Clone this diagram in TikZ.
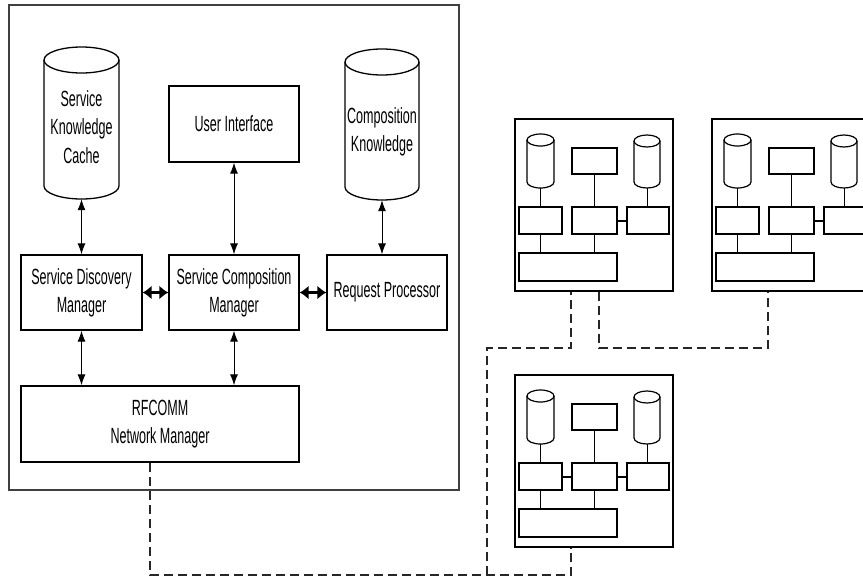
\documentclass[tikz,border=0pt]{standalone}
\usepackage{fontspec}
\setmainfont{Liberation Sans}[FakeStretch=0.57]
\usepackage{tikz}
\usetikzlibrary{arrows.meta,positioning}
\tikzset{
comp/.style = {draw=black, line width=1.3pt, rectangle, align=center, inner sep=0pt,
font=\fontsize{22}{28}\selectfont},% composant de l'hote
storetext/.style = {align=center, inner sep=0pt, font=\fontsize{22}{28.5}\selectfont},% texte d'une base
mini/.style = {draw=black, line width=1.2pt, rectangle, inner sep=0pt},% composant d'un pair
twoway/.style = {{Latex[length=11pt,width=8pt]}-{Latex[length=11pt,width=8pt]}, line width=0.9pt},
sideway/.style = {{Latex[length=9pt,width=14pt]}-{Latex[length=9pt,width=14pt]}, line width=2.2pt},
link/.style = {dash pattern=on 9pt off 5pt, line width=1.4pt, black!85}
}
% une base: #1 nom, (#2,#3) centre, #4 largeur, #5 hauteur, #6 rayon du couvercle, #7 trait
\newcommand{\drum}[7]{%
  \node[inner sep=0pt, minimum width=#4pt, minimum height=#5pt] (#1) at (#2,#3) {};
  \begin{scope}[shift={(#2,#3)}, line width=#7]
    \draw (0,{-#5/2+#6}) ellipse[x radius={#4/2}, y radius=#6];
    \draw ({-#4/2},{-#5/2+#6}) -- ({-#4/2},{#5/2-#6})
      arc[start angle=180, end angle=0, x radius={#4/2}, y radius=#6] -- ({#4/2},{-#5/2+#6});
  \end{scope}}
% un pair du reseau, #1 nom, (#2,#3) coin haut gauche, #4 lien gauche
\newcommand{\peer}[4]{%
\begin{scope}[shift={(#2,#3)}]
  \node[mini, minimum width=158pt, minimum height=172pt] (#1) at (79,86) {};
  \drum{#1l}{25.5}{42}{27}{54}{6}{1.2pt}
  \node[mini, minimum width=45pt, minimum height=26pt] (#1t) at (79.5,42) {};
  \drum{#1r}{132}{42.5}{26}{53}{6}{1.2pt}
  \node[mini, minimum width=43pt, minimum height=27pt] (#1sl) at (25.5,101.5) {};
  \node[mini, minimum width=45pt, minimum height=27pt] (#1sm) at (79.5,101.5) {};
  \node[mini, minimum width=42pt, minimum height=27pt] (#1sr) at (133,101.5) {};
  \node[mini, minimum width=98pt, minimum height=28pt] (#1n) at (53,148) {};
  \draw[line width=1pt] (#1l.south) -- (#1sl.north);
  \draw[line width=1pt] (#1t.south) -- (#1sm.north);
  \draw[line width=1pt] (#1r.south) -- (#1r.south |- #1sr.north);
  \draw[line width=1pt] (#1sl.south) -- (#1sl.south |- #1n.north);
  \draw[line width=1pt] (#1sm.south) -- (#1sm.south |- #1n.north);
  \draw[line width=2pt] (#1sm.east) -- (#1sr.west);
  #4
  \coordinate (#1a) at ([xshift=-23pt]#1.south);
  \coordinate (#1b) at ([xshift=5pt]#1.south);
\end{scope}}

\begin{document}
\begin{tikzpicture}[x=1pt, y=-1pt]
  \clip (0,0) rectangle (863,579);
  % l'hote
  \node[draw=black!75, line width=1.5pt, minimum width=450pt, minimum height=485pt] (host) at (234,247.5) {};
  \drum{cache}{81.5}{123}{75}{152}{13}{1.3pt}
  \node[storetext] (cachetext) at (81.5,127) {Service\\Knowledge\\Cache};
  \node[comp, minimum width=130pt, minimum height=76pt] (ui) at (234,124) {User Interface};
  \drum{compk}{382}{124.5}{74}{151}{13}{1.3pt}
  \node[storetext] (compktext) at (382,132) {Composition\\Knowledge};
  \node[comp, minimum width=121pt, minimum height=75pt] (sdm) at (81.5,292.5) {Service Discovery\\Manager};
  \node[comp, minimum width=130pt, minimum height=75pt] (scm) at (234,292.5) {Service Composition\\Manager};
  \node[comp, minimum width=120pt, minimum height=75pt] (rp) at (387,292.5) {Request Processor};
  \node[comp, minimum width=278pt, minimum height=76pt] (rfcomm) at (160,424) {RFCOMM\\Network Manager};
  \draw[twoway] (cache.south) -- (sdm.north);
  \draw[twoway] (ui.south) -- (scm.north);
  \draw[twoway] (compk.south) -- (compk.south |- rp.north);
  \draw[sideway] (sdm.east) -- (scm.west);
  \draw[sideway] (scm.east) -- (rp.west);
  \draw[twoway] (sdm.south) -- (sdm.south |- rfcomm.north);
  \draw[twoway] (scm.south) -- (scm.south |- rfcomm.north);
  % les pairs
  \peer{pa}{515}{119}{}
  \peer{pb}{712}{119}{}
  \peer{pc}{515}{375}{\draw[line width=2pt] (pcsl.east) -- (pcsm.west);}
  % le reseau
  \coordinate (rf) at ([xshift=-10pt]rfcomm.south);
  \coordinate (bus) at (487,575);
  \coordinate (hub) at (487,348);
  \draw[link] (rf) |- (bus) -| (pca);
  \draw[link] (bus) -- (hub) -| (paa);
  \draw[link] (pab) -- (pab |- hub) -| (pba);
\end{tikzpicture}
\end{document}
